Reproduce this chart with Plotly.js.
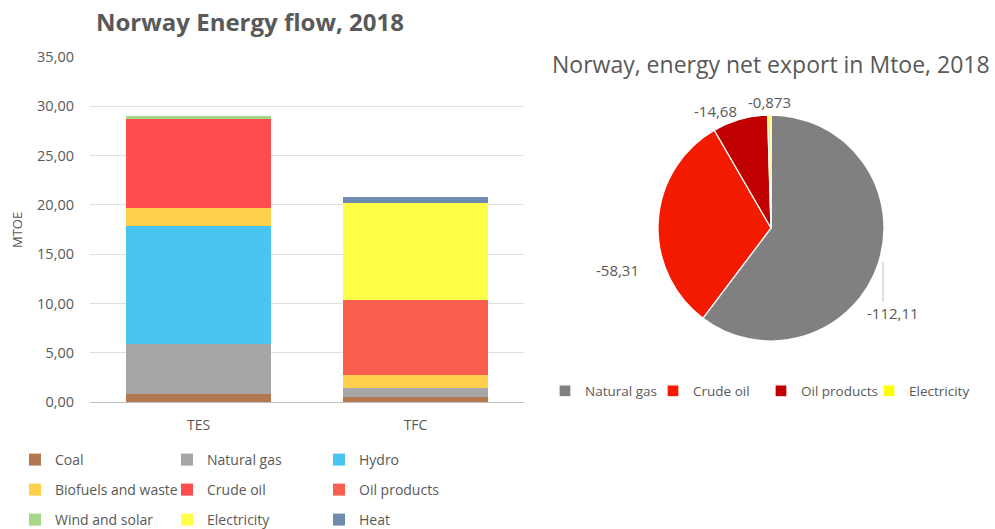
<!DOCTYPE html>
<html>
<head>
<meta charset="utf-8">
<script src="https://cdn.plot.ly/plotly-3.0.1.min.js"></script>
<style>html,body{margin:0;padding:0;background:#fff;}#chart{width:995px;height:529px;}</style>
</head>
<body>
<div id="chart"></div>
<script>
// ---- Data ----
const categories = ['TES', 'TFC'];
const coal        = [0.78, 0.54];
const naturalGas  = [5.10, 0.88];
const hydro       = [11.97, 0];
const biofuels    = [1.85, 1.29];
const crudeOil    = [8.97, 0];
const oilProducts = [0, 7.60];
const windSolar   = [0.37, 0];
const electricity = [0, 9.87];
const heat        = [0, 0.58];

const seriesNames = ['Coal', 'Natural gas', 'Hydro', 'Biofuels and waste', 'Crude oil',
                     'Oil products', 'Wind and solar', 'Electricity', 'Heat'];
const seriesValues = [coal, naturalGas, hydro, biofuels, crudeOil, oilProducts, windSolar, electricity, heat];

const pieLabels = ['Natural gas', 'Crude oil', 'Oil products', 'Electricity'];
const netExport = [-112.11, -58.31, -14.68, -0.873];

// ---- Styles ----
const barColors = ['#B3784F', '#A6A6A6', '#49C5F1', '#FFD04C', '#FF4C4C', '#F95E4E', '#A6D68A', '#FFFF47', '#6F8CAF'];
const pieColors = ['#808080', '#F41A00', '#C00000', '#FFFF00'];
const FONT = 'Open Sans, sans-serif';
const GREY = '#595959';
const W = 995, H = 529;
const px = v => v / W;
const py = v => (H - v) / H;

const legendRow = ['legend', 'legend', 'legend', 'legend2', 'legend2', 'legend2', 'legend3', 'legend3', 'legend3'];

const traces = seriesNames.map((name, i) => ({
  type: 'bar',
  name: name,
  x: categories,
  y: seriesValues[i],
  marker: {color: barColors[i], line: {width: 0}},
  legend: legendRow[i],
  hoverinfo: 'none'
}));

traces.push({
  type: 'pie',
  labels: pieLabels,
  values: netExport.map(Math.abs),
  sort: false,
  direction: 'clockwise',
  rotation: 0,
  textinfo: 'none',
  hoverinfo: 'none',
  marker: {colors: pieColors, line: {color: '#ffffff', width: 1.3}},
  domain: {x: [px(771 - 113), px(771 + 113)], y: [py(228 + 113), py(228 - 113)]},
  legend: 'legend4',
  showlegend: true
});

const fmt = v => String(v).replace('.', ',');
const pieLabelPos = [[893, 313], [617, 270], [715, 111], [769, 102]];

const annotations = [
  {text: '<b>Norway Energy flow, 2018</b>', x: px(94), y: py(21), xref: 'paper', yref: 'paper',
   xanchor: 'left', yanchor: 'middle', showarrow: false, font: {family: FONT, size: 24, color: GREY}},
  {text: 'Norway, energy net export in Mtoe, 2018', x: px(771), y: py(64), xref: 'paper', yref: 'paper',
   xanchor: 'center', yanchor: 'middle', showarrow: false, font: {family: FONT, size: 23, color: GREY}},
  {text: 'MTOE', x: px(17), y: py(230), xref: 'paper', yref: 'paper', textangle: -90,
   xanchor: 'center', yanchor: 'middle', showarrow: false, font: {family: FONT, size: 13, color: GREY}}
];
netExport.forEach((v, i) => {
  annotations.push({text: fmt(v), x: px(pieLabelPos[i][0]), y: py(pieLabelPos[i][1]), xref: 'paper', yref: 'paper',
    xanchor: 'center', yanchor: 'middle', showarrow: false, font: {family: FONT, size: 15, color: GREY}});
});

const legendBase = {
  orientation: 'h', xanchor: 'left', yanchor: 'middle', entrywidthmode: 'pixels', entrywidth: 107,
  font: {family: FONT, size: 14, color: GREY}, bgcolor: 'rgba(0,0,0,0)', traceorder: 'normal', itemclick: false
};

const layout = {
  width: W, height: H,
  margin: {l: 0, r: 0, t: 0, b: 0, autoexpand: false},
  paper_bgcolor: '#ffffff', plot_bgcolor: '#ffffff',
  separators: ',.',
  barmode: 'stack',
  bargap: 0.336,
  font: {family: FONT, color: GREY},
  xaxis: {domain: [px(90), px(524)], showgrid: false, zeroline: false, showline: true, linecolor: '#BFBFBF',
          ticks: '', ticklabelstandoff: 10, tickfont: {family: FONT, size: 14, color: GREY}, fixedrange: true},
  yaxis: {domain: [py(402), py(57)], range: [0, 35], dtick: 5, tickformat: '.2f', showgrid: true,
          gridcolor: '#E0E0E0', zeroline: false, ticks: '', ticklabelstandoff: 15,
          tickfont: {family: FONT, size: 14.5, color: GREY}, fixedrange: true},
  legend:  Object.assign({}, legendBase, {x: px(15), y: py(460)}),
  legend2: Object.assign({}, legendBase, {x: px(15), y: py(490)}),
  legend3: Object.assign({}, legendBase, {x: px(15), y: py(520)}),
  legend4: Object.assign({}, legendBase, {x: px(545), y: py(391), entrywidth: 63,
                                         font: {family: FONT, size: 13.5, color: GREY}}),
  annotations: annotations,
  shapes: [{type: 'line', xref: 'paper', yref: 'paper', x0: px(883), x1: px(883), y0: py(262), y1: py(302),
            line: {color: '#BFBFBF', width: 1}}],
  showlegend: true
};

Plotly.newPlot('chart', traces, layout, {displayModeBar: false, staticPlot: true});
</script>
</body>
</html>
